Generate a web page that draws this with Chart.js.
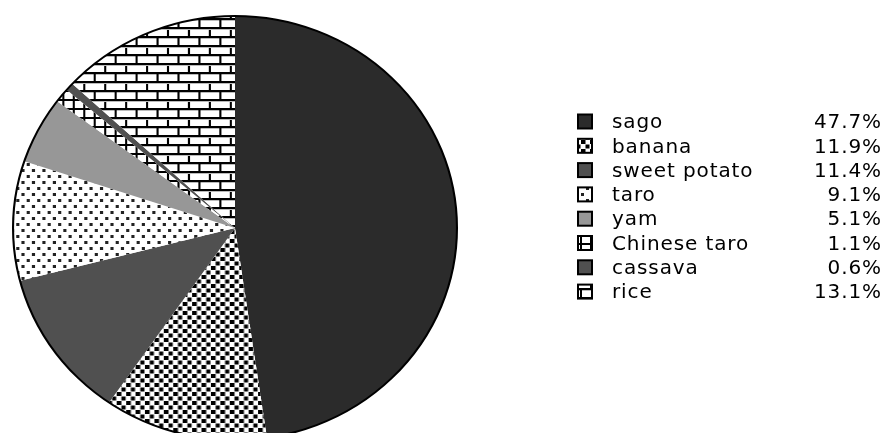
<!DOCTYPE html>
<html>
<head>
<meta charset="utf-8">
<script src="https://cdn.jsdelivr.net/npm/chart.js@4.4.1/dist/chart.umd.min.js"></script>
<style>
    html, body { margin: 0; padding: 0; background: #fff; }
    #wrap { width: 884px; height: 433px; position: relative; }
</style>
</head>
<body>
<div id="wrap"><canvas id="pie" width="884" height="433"></canvas></div>
<script>
var categories = ['sago', 'banana', 'sweet potato', 'taro', 'yam', 'Chinese taro', 'cassava', 'rice'];
var shares = [47.7, 11.9, 11.4, 9.1, 5.1, 1.1, 0.6, 13.1];
var fillKinds = ['sago', 'banana', 'sweetPotato', 'taro', 'yam', 'chineseTaro', 'cassava', 'rice'];

var pies = {
    makeTile: function(w, h, draw) {
        var c = document.createElement('canvas');
        c.width = w;
        c.height = h;
        var g = c.getContext('2d');
        g.fillStyle = '#fff';
        g.fillRect(0, 0, w, h);
        draw(g);
        return document.getElementById('pie').getContext('2d').createPattern(c, 'repeat');
    },

    fills: function() {
        var self = this;
        return {
            sago: '#2b2b2b',
            sweetPotato: '#505050',
            yam: '#979797',
            cassava: '#505050',
            banana: self.makeTile(9, 9, function(g) {
                g.fillStyle = '#000';
                g.fillRect(0.5, 0.5, 4, 4);
                g.fillRect(5, 5, 4, 4);
                g.fillRect(0, 5, 0.5, 4);
            }),
            taro: self.makeTile(10, 12, function(g) {
                g.fillStyle = '#222';
                g.fillRect(1, 1, 3, 3);
                g.fillRect(6, 7, 3, 3);
            }),
            chineseTaro: self.makeTile(10, 9, function(g) {
                g.fillStyle = '#000';
                g.fillRect(0, 0, 10, 2);
                g.fillRect(0, 0, 2, 9);
            }),
            rice: self.makeTile(20, 18, function(g) {
                g.fillStyle = '#000';
                g.fillRect(0, 0, 20, 2);
                g.fillRect(0, 9, 20, 2);
                g.fillRect(0, 0, 2, 9);
                g.fillRect(10, 9, 2, 9);
                g.fillStyle = '#bbb';
                g.fillRect(2, 2, 18, 1);
                g.fillRect(0, 11, 20, 1);
            })
        };
    }
};

var fillMap = pies.fills();
var colors = fillKinds.map(function(k) { return fillMap[k]; });

// pie in the reference is a bit wider than tall
var squash = {
    id: 'squash',
    beforeDatasetsDraw: function(chart) {
        var arc = chart.getDatasetMeta(0).data[0];
        var ctx = chart.ctx;
        ctx.save();
        ctx.translate(arc.x, arc.y);
        ctx.scale(1.047, 1);
        ctx.translate(-arc.x, -arc.y);
    },
    afterDatasetsDraw: function(chart) {
        var arc = chart.getDatasetMeta(0).data[0];
        var ctx = chart.ctx;
        ctx.beginPath();
        ctx.arc(arc.x, arc.y, arc.outerRadius, 0, Math.PI * 2);
        ctx.lineWidth = 2;
        ctx.strokeStyle = '#000';
        ctx.stroke();
        ctx.restore();
    }
};

var sideLegend = {
    id: 'sideLegend',
    afterDraw: function(chart) {
        var ctx = chart.ctx;
        ctx.save();
        ctx.font = '20px "DejaVu Sans", sans-serif';
        ctx.letterSpacing = '0.9px';
        ctx.textBaseline = 'middle';
        for (var i = 0; i < categories.length; i++) {
            var y = 122 + i * 24.3;
            ctx.fillStyle = colors[i];
            ctx.fillRect(578, y - 7.5, 14, 14);
            ctx.lineWidth = 2;
            ctx.strokeStyle = '#000';
            ctx.strokeRect(578, y - 7.5, 14, 14);
            ctx.fillStyle = '#000';
            ctx.textAlign = 'left';
            ctx.fillText(categories[i], 612, y + 1);
            ctx.textAlign = 'right';
            ctx.fillText(shares[i].toFixed(1) + '%', 882, y + 1);
        }
        ctx.restore();
    }
};

new Chart(document.getElementById('pie'), {
    type: 'pie',
    data: {
        labels: categories,
        datasets: [{
            data: shares,
            backgroundColor: colors,
            borderWidth: 0,
            clip: false
        }]
    },
    options: {
        responsive: false,
        animation: false,
        radius: 212,
        layout: { padding: { left: 10, right: 424, top: 23, bottom: 0 } },
        plugins: {
            legend: { display: false },
            tooltip: { enabled: false }
        }
    },
    plugins: [squash, sideLegend]
});
</script>
</body>
</html>
